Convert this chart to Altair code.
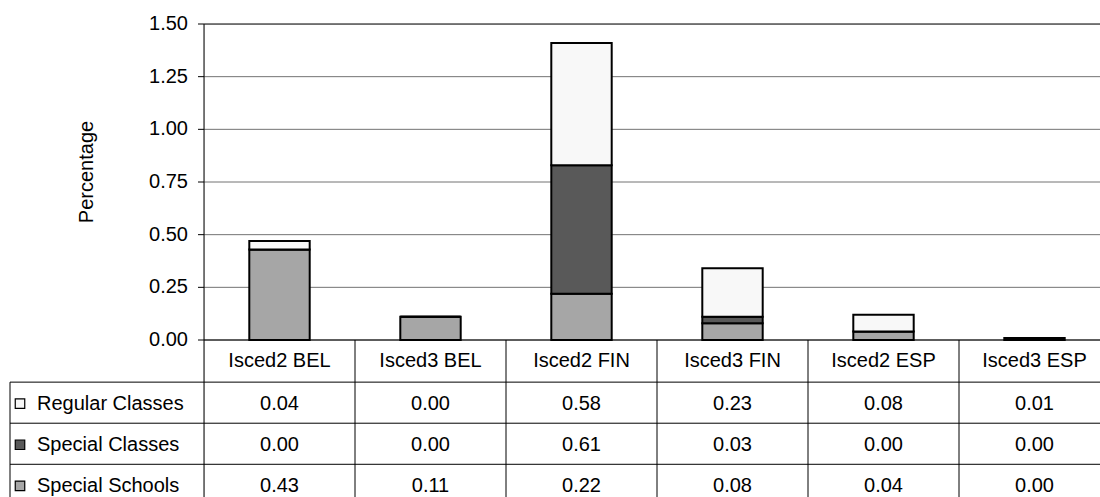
import altair as alt
import pandas as pd

# ---- data -------------------------------------------------------------
categories = ["Isced2 BEL", "Isced3 BEL", "Isced2 FIN", "Isced3 FIN", "Isced2 ESP", "Isced3 ESP"]
series = ["Regular Classes", "Special Classes", "Special Schools"]
regular_classes = [0.04, 0.00, 0.58, 0.23, 0.08, 0.01]
special_classes = [0.00, 0.00, 0.61, 0.03, 0.00, 0.00]
special_schools = [0.43, 0.11, 0.22, 0.08, 0.04, 0.00]
y_ticks = [0.0, 0.25, 0.5, 0.75, 1.0, 1.25, 1.5]
series_colors = ["#f8f8f8", "#595959", "#a6a6a6"]

values = {
    "Regular Classes": regular_classes,
    "Special Classes": special_classes,
    "Special Schools": special_schools,
}
stack_order = ["Special Schools", "Special Classes", "Regular Classes"]

# ---- layout -----------------------------------------------------------
FONT = "Liberation Sans, Arial, Helvetica, sans-serif"
FS = 20
COL_PX = 151            # width of one category column in pixels
LEFT_PAD, TOP_PAD = 204, 24
PLOT_W, PLOT_H = 1100 - LEFT_PAD, 497 - TOP_PAD
Y_MAX = 1.5
PX_PER_UNIT = 316 / Y_MAX
Y_MIN = Y_MAX - PLOT_H / PX_PER_UNIT
X_MAX = PLOT_W / COL_PX
LABEL_COL = -(LEFT_PAD - 10) / COL_PX   # left edge of the row-label column
HEADER_H = 0.2
ROW_H = 0.195
BAR_LO, BAR_HI = 0.3, 0.7

x_scale = alt.Scale(domain=[0, X_MAX], nice=False, zero=False)
y_scale = alt.Scale(domain=[Y_MIN, Y_MAX], nice=False, zero=False)
color_scale = alt.Scale(domain=series, range=series_colors)


def xq(field):
    return alt.X(f"{field}:Q", scale=x_scale, axis=None)


def yq(field):
    return alt.Y(f"{field}:Q", scale=y_scale, axis=None)


# ---- stacked bars -------------------------------------------------------
bar_rows = []
for i, cat in enumerate(categories):
    base = 0.0
    for s in stack_order:
        v = values[s][i]
        bar_rows.append({"category": cat, "series": s, "x0": i + BAR_LO, "x1": i + BAR_HI,
                         "y0": base, "y1": base + v})
        base += v
bars_df = pd.DataFrame(bar_rows)

bars = alt.Chart(bars_df).mark_rect(stroke="#000000", strokeWidth=2).encode(
    x=xq("x0"), x2="x1:Q", y=yq("y0"), y2="y1:Q",
    color=alt.Color("series:N", scale=color_scale, legend=None),
)

# ---- value axis: gridlines, ticks, labels, title ----------------------------
ticks_df = pd.DataFrame({"v": y_ticks, "label": [f"{t:.2f}" for t in y_ticks]})
ticks_df["x_axis"] = 0.0
ticks_df["x_end"] = X_MAX

grid = alt.Chart(ticks_df[ticks_df["v"] < Y_MAX]).mark_rule(color="#737373", strokeWidth=1).encode(
    x=xq("x_axis"), x2="x_end:Q", y=yq("v"),
)
top_line = alt.Chart(ticks_df[ticks_df["v"] == Y_MAX]).mark_rule(color="#000000", strokeWidth=1).encode(
    x=xq("x_axis"), x2="x_end:Q", y=yq("v"),
)
tick_marks = alt.Chart(ticks_df).mark_rule(color="#000000", strokeWidth=1, x2Offset=-6).encode(
    x=xq("x_axis"), x2="x_axis:Q", y=yq("v"),
)
tick_labels = alt.Chart(ticks_df).mark_text(font=FONT, fontSize=FS, color="#000000",
                                            align="right", baseline="middle", dx=-16).encode(
    x=xq("x_axis"), y=yq("v"), text="label:N",
)
title_df = pd.DataFrame({"label": ["Percentage"], "v": [sum(y_ticks) / len(y_ticks)], "x_axis": [0.0]})
# rotated text: dx runs along the text (upwards), dy across it (leftwards)
y_title = alt.Chart(title_df).mark_text(font=FONT, fontSize=FS, color="#000000", angle=270,
                                        align="center", baseline="middle", dx=10, dy=-117).encode(
    x=xq("x_axis"), y=yq("v"), text="label:N",
)

# ---- data table under the plot -------------------------------------------
row_tops = [-(HEADER_H + r * ROW_H) for r in range(len(series) + 1)]

hlines = pd.DataFrame(
    [{"y": 0.0, "xa": 0.0, "xb": X_MAX}]
    + [{"y": t, "xa": LABEL_COL, "xb": X_MAX} for t in row_tops[:-1]]
)
vlines = pd.DataFrame(
    [{"x": 0.0, "ya": Y_MAX, "yb": Y_MIN}]
    + [{"x": float(i), "ya": 0.0, "yb": Y_MIN} for i in range(1, len(categories)) if i < X_MAX]
    + [{"x": LABEL_COL, "ya": row_tops[0], "yb": Y_MIN}]
)

h_rules = alt.Chart(hlines).mark_rule(color="#000000", strokeWidth=1).encode(
    x=xq("xa"), x2="xb:Q", y=yq("y"),
)
v_rules = alt.Chart(vlines).mark_rule(color="#000000", strokeWidth=1).encode(
    x=xq("x"), y=yq("ya"), y2="yb:Q",
)

header_df = pd.DataFrame({"x": [i + 0.5 for i in range(len(categories))],
                          "y": [-HEADER_H / 2] * len(categories),
                          "label": categories})
header = alt.Chart(header_df).mark_text(font=FONT, fontSize=FS, color="#000000",
                                        align="center", baseline="middle").encode(
    x=xq("x"), y=yq("y"), text="label:N",
)

cell_rows = []
for r, s in enumerate(series):
    for i, cat in enumerate(categories):
        cell_rows.append({"x": i + 0.5, "y": row_tops[r] - ROW_H / 2,
                          "label": f"{values[s][i]:.2f}"})
cells_df = pd.DataFrame(cell_rows)
cells = alt.Chart(cells_df).mark_text(font=FONT, fontSize=FS, color="#000000",
                                      align="center", baseline="middle", dy=1).encode(
    x=xq("x"), y=yq("y"), text="label:N",
)

legend_df = pd.DataFrame({"series": series,
                          "x": [LABEL_COL] * len(series),
                          "y": [row_tops[r] - ROW_H / 2 for r in range(len(series))]})
row_labels = alt.Chart(legend_df).mark_text(font=FONT, fontSize=FS, color="#000000",
                                            align="left", baseline="middle", dx=27, dy=1).encode(
    x=xq("x"), y=yq("y"), text="series:N",
)
swatches = alt.Chart(legend_df).mark_square(size=90, opacity=1, stroke="#000000",
                                            strokeWidth=1.2, xOffset=10, yOffset=1).encode(
    x=xq("x"), y=yq("y"),
    color=alt.Color("series:N", scale=color_scale, legend=None),
)

chart = alt.layer(
    grid, top_line, bars, h_rules, v_rules, tick_marks, tick_labels, y_title,
    header, cells, row_labels, swatches,
).properties(
    width=PLOT_W,
    height=PLOT_H,
    padding={"left": LEFT_PAD, "top": TOP_PAD, "right": 0, "bottom": 0},
    autosize=alt.AutoSizeParams(type="none"),
).configure_view(strokeWidth=0).configure(background="#ffffff")

chart.save("out.html", embed_options={"renderer": "svg", "actions": False})
